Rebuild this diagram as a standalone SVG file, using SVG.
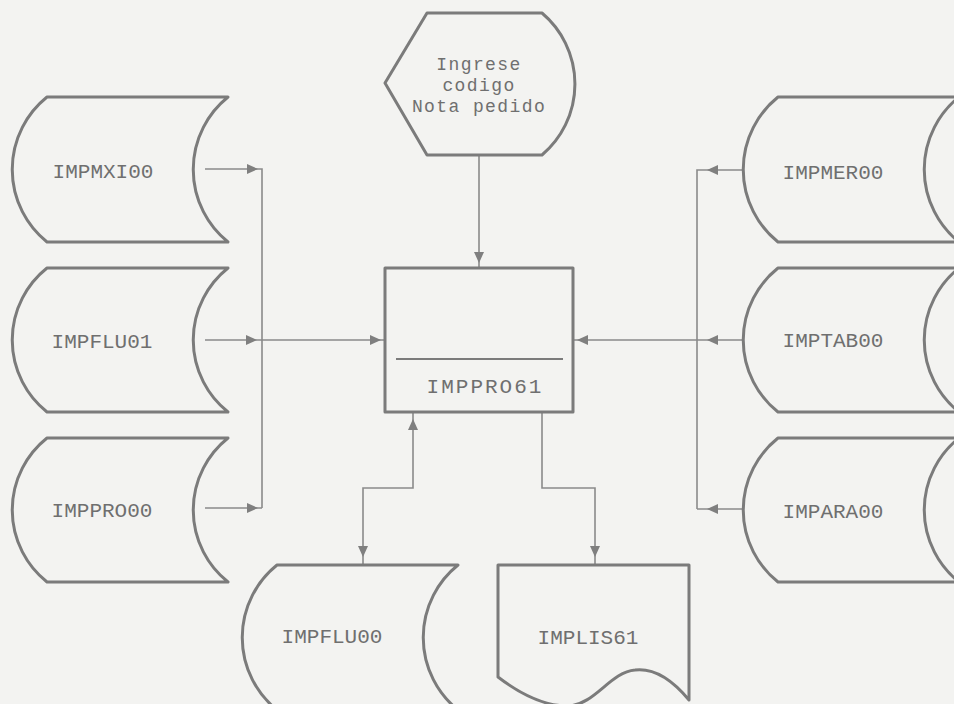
<svg xmlns="http://www.w3.org/2000/svg" width="954" height="704" viewBox="0 0 954 704">
<style>
.shape{fill:none;stroke:#7b7b7b;stroke-width:3;stroke-linejoin:round}
.conn{fill:none;stroke:#8a8a8a;stroke-width:1.6}
.lbl{font-family:"Liberation Mono","DejaVu Sans Mono",monospace;font-size:21px;fill:#6f6f6f;text-anchor:middle}
.hx{font-size:18px;letter-spacing:1.4px}
.ah{fill:#7f7f7f}
</style>
<defs>
<path id="ah" d="M0,0 L-11,-5 L-11,5 Z"/>
<path id="store" d="M0,0 H181 A93,93 0 0 0 181,145 H0 A93,93 0 0 1 0,0 Z"/>
</defs>
<rect width="954" height="704" fill="#f3f3f1"/>

<g id="connectors">
<path class="conn" d="M205,169 H262 V508 M205,508 H262 M205,340 H385"/>
<path class="conn" d="M479,155 V268"/>
<path class="conn" d="M743,170 H697 V509 M743,509 H697 M743,340 H573"/>
<path class="conn" d="M413,412 V488 H363 V565"/>
<path class="conn" d="M542,412 V488 H595 V565"/>
<g class="ah">
<use href="#ah" transform="translate(258,169)"/>
<use href="#ah" transform="translate(257,340)"/>
<use href="#ah" transform="translate(258,508)"/>
<use href="#ah" transform="translate(381,340)"/>
<use href="#ah" transform="translate(479,263) rotate(90)"/>
<use href="#ah" transform="translate(707,170) rotate(180)"/>
<use href="#ah" transform="translate(707,340) rotate(180)"/>
<use href="#ah" transform="translate(707,509) rotate(180)"/>
<use href="#ah" transform="translate(577,340) rotate(180)"/>
<use href="#ah" transform="translate(413,419) rotate(-90)"/>
<use href="#ah" transform="translate(363,557) rotate(90)"/>
<use href="#ah" transform="translate(595,557) rotate(90)"/>
</g>
</g>

<g id="ingrese">
<path class="shape" d="M427,13 H542 A93,93 0 0 1 542,155 H427 L385,83 Z"/>
<text class="lbl hx" x="479" y="70">Ingrese</text>
<text class="lbl hx" x="479" y="91">codigo</text>
<text class="lbl hx" x="479" y="112">Nota pedido</text>
</g>

<g id="impmxi00">
<use href="#store" class="shape" transform="translate(47,97)"/>
<text class="lbl" x="103" y="178">IMPMXI00</text>
</g>
<g id="impflu01">
<use href="#store" class="shape" transform="translate(47,268) scale(1,0.993)"/>
<text class="lbl" x="102" y="348">IMPFLU01</text>
</g>
<g id="imppro000">
<use href="#store" class="shape" transform="translate(47,438) scale(1,0.993)"/>
<text class="lbl" x="102" y="517">IMPPRO00</text>
</g>

<g id="impmer00">
<use href="#store" class="shape" transform="translate(778,97)"/>
<text class="lbl" x="833" y="179">IMPMER00</text>
</g>
<g id="imptab00">
<use href="#store" class="shape" transform="translate(778,268) scale(1,0.993)"/>
<text class="lbl" x="833" y="347">IMPTAB00</text>
</g>
<g id="impara00">
<use href="#store" class="shape" transform="translate(778,438) scale(1,0.993)"/>
<text class="lbl" x="833" y="518">IMPARA00</text>
</g>

<g id="imppro61">
<rect class="shape" x="385" y="268" width="188" height="144"/>
<line x1="396" y1="359" x2="563" y2="359" stroke="#7b7b7b" stroke-width="2"/>
<text class="lbl" x="485" y="393" font-size="18" letter-spacing="2">IMPPRO61</text>
</g>

<g id="impflu00">
<use href="#store" class="shape" transform="translate(277,565)"/>
<text class="lbl" x="332" y="643">IMPFLU00</text>
</g>

<g id="implis61">
<path class="shape" d="M498,565 H689 V700 C670,677 652,668 635,670 C610,672 595,705 568,706 C540,706 515,690 498,677 Z"/>
<text class="lbl" x="588" y="644">IMPLIS61</text>
</g>
</svg>
